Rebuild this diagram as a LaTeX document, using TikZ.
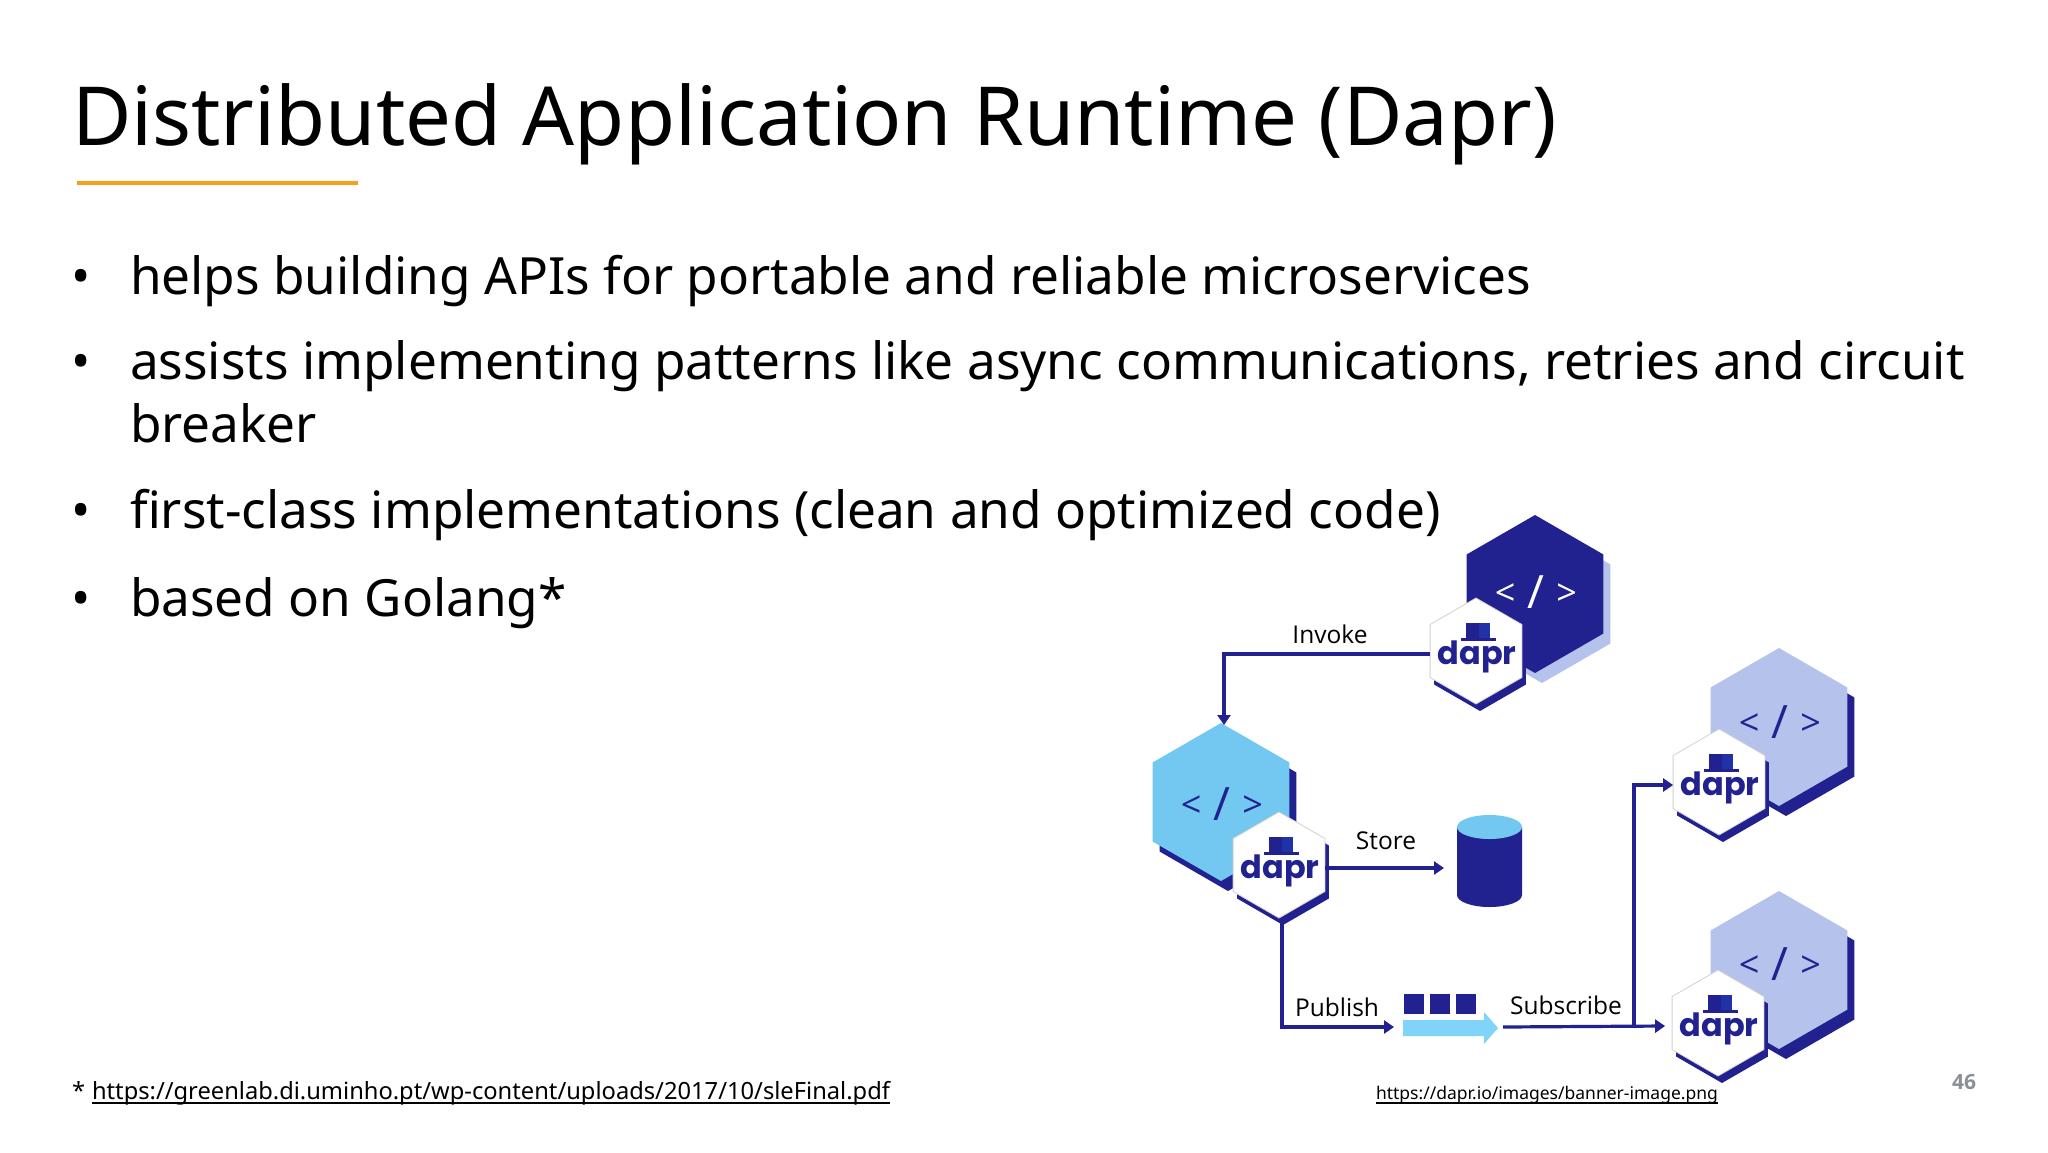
\documentclass[tikz,border=0pt]{standalone}
\usepackage{fontspec}
\setmainfont{Noto Sans}
\newfontfamily\labelfont{Open Sans}
\newfontfamily\daprfont{Poppins}
\usetikzlibrary{shapes.geometric,arrows.meta,positioning}
\definecolor{navy}{HTML}{21218F}
\definecolor{navyb}{HTML}{2033A6}
\definecolor{sky}{HTML}{72C8F0}
\definecolor{skyb}{HTML}{80D4FA}
\definecolor{lav}{HTML}{B4C2EC}
\definecolor{amber}{HTML}{F79F1F}
\definecolor{pgnum}{HTML}{8A8F9A}
\tikzset{
  hexn/.style={shape=regular polygon,regular polygon sides=6,shape border rotate=30,inner sep=0pt,outer sep=0pt,draw=none},
  txt/.style={inner sep=0pt,outer sep=0pt,anchor=base west,text=black},
  bodyt/.style={txt,font=\fontsize{51.3}{51.3}\selectfont},
  foot/.style={txt,font=\fontsize{23.7}{23.7}\selectfont},
  flow/.style={draw=navy,line width=3.2pt,-{Triangle[length=10pt,width=13pt]}},
  flowlabel/.style={inner sep=0pt,text=black,font=\labelfont\fontsize{24.5}{24.5}\selectfont},
  ulink/.style={draw=black,line width=1.6pt}
}
% name, x, y, fill, shadow colour, code colour, code dy
\newcommand{\apphex}[7]{%
  \begin{scope}[shift={(#2,#3)}]
    \node[hexn,minimum size=158pt,fill=#5] at (7,10) {};
    \node[hexn,minimum size=158pt,fill=#4] (#1) at (0,0) {};
    \node[inner sep=0pt,text=#6,font=\labelfont\fontsize{36}{36}\selectfont] at (1,#7) {<\hspace{12pt}\raisebox{-3pt}{\fontsize{46}{46}\selectfont/}\hspace{12pt}>};
  \end{scope}}
% name, x, y
\newcommand{\daprhex}[3]{%
  \begin{scope}[shift={(#2,#3)}]
    \node[hexn,minimum size=106pt,fill=navy] at (4,7) {};
    \node[hexn,minimum size=106pt,fill=white,draw=black!18,line width=.8pt] (#1) at (0,0) {};
    \fill[navy] (-10,-28) rectangle (3,-13);
    \fill[navyb] (3,-28) rectangle (14,-13);
    \fill[navy] (-15,-13) rectangle (20,-10);
    \node[inner sep=0pt,anchor=base,text=navy,font=\daprfont\bfseries\fontsize{32}{32}\selectfont] at (1,13) {dapr};
  \end{scope}}
\begin{document}
\begin{tikzpicture}[x=1pt,y=-1pt]
\useasboundingbox (0,0) rectangle (2048,1152);
\fill[white] (0,0) rectangle (2048,1152);
% title
\node[txt,font=\fontsize{81.5}{81.5}\selectfont] (title) at (72,145) {Distributed Application Runtime (Dapr)};
\coordinate (ruleL) at (77,183);
\coordinate (ruleR) at (358,183);
\draw[amber,line width=3.2pt] (ruleL) -- (ruleR);
% bullets
\node[bodyt] (b1) at (71,294) {•};
\node[bodyt] (t1) at (130,294) {helps building APIs for portable and reliable microservices};
\node[bodyt] (b2) at (71,379) {•};
\node[bodyt] (t2) at (130,379) {assists implementing patterns like async communications, retries and circuit};
\node[bodyt] (t2b) at (130,442) {breaker};
\node[bodyt] (b3) at (71,528) {•};
\node[bodyt] (t3) at (130,528) {first-class implementations (clean and optimized code)};
\node[bodyt] (b4) at (71,616) {•};
\node[bodyt] (t4) at (130,616) {based on Golang*};
% footers
\node[foot] (star) at (72,1099) {*};
\node[foot] (link1) at (92,1099) {https://greenlab.di.uminho.pt/wp-content/uploads/2017/10/sleFinal.pdf};
\draw[ulink] ([yshift=-4pt]link1.base west) -- ([yshift=-4pt]link1.base east);
\node[txt,font=\fontsize{17.5}{17.5}\selectfont] (link2) at (1376,1099) {https://dapr.io/images/banner-image.png};
\draw[ulink] ([yshift=-4pt]link2.base west) -- ([yshift=-4pt]link2.base east);
\node[txt,text=pgnum,font=\labelfont\bfseries\fontsize{21}{21}\selectfont] (pg) at (1952,1089) {46};
% services
\apphex{appA}{1535}{594}{navy}{lav}{white}{-2}
\daprhex{daprA}{1476}{651}
\apphex{appB}{1221}{802}{sky}{navy}{navy}{2}
\daprhex{daprB}{1279}{865}
\apphex{appC}{1779}{727}{lav}{navy}{navy}{-5}
\daprhex{daprC}{1719}{782}
\apphex{appD}{1779}{970}{lav}{navy}{navy}{-6}
\daprhex{daprD}{1718}{1023}
% state store
\fill[navy] (1457,827) -- (1457,895) arc[x radius=32.5,y radius=12,start angle=180,end angle=0] -- (1522,827) -- cycle;
\fill[sky] (1489.5,827) ellipse[x radius=32.5,y radius=12];
% queue
\fill[navy] (1404,994) rectangle (1424,1014);
\fill[navy] (1430,994) rectangle (1450,1014);
\fill[navy] (1456,994) rectangle (1476,1014);
\fill[skyb] (1403,1020) -- (1484,1020) -- (1484,1012) -- (1498,1028) -- (1484,1044) -- (1484,1036) -- (1403,1036) -- cycle;
% connector ends
\coordinate (invokeTurn) at (1224,654);
\coordinate (invokeEnd) at (1224,725);
\coordinate (storeEnd) at (1444,868);
\coordinate (pubTurn) at (1282,1027);
\coordinate (pubEnd) at (1394,1027);
\coordinate (subStart) at (1503,1027);
\coordinate (subBranch) at (1634,1026);
\coordinate (subTop) at (1634,785);
% connectors
\draw[flow] ([yshift=-3pt]daprA.west) -- (invokeTurn) -- (invokeEnd);
\draw[flow] ([yshift=-3pt]daprB.east) -- (storeEnd);
\draw[flow] ([xshift=3pt]daprB.south) -- (pubTurn) -- (pubEnd);
\draw[flow] (subStart) -- ([xshift=-7pt,yshift=-3pt]daprD.west);
\draw[flow] (subBranch) -- (subTop) -- ([yshift=-3pt]daprC.west);
% labels
\node[flowlabel] (lInvoke) at (1330,634) {Invoke};
\node[flowlabel] (lStore) at (1386,841) {Store};
\node[flowlabel] (lPublish) at (1337,1007) {Publish};
\node[flowlabel] (lSubscribe) at (1566,1005) {Subscribe};
\end{tikzpicture}
\end{document}
